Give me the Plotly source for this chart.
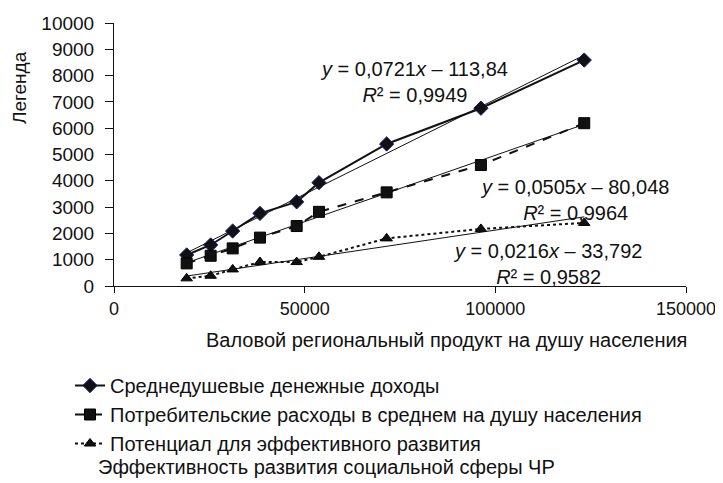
import plotly.graph_objects as go

# Data
grp = [19060, 25350, 31120, 38280, 47900, 53750, 71500, 96220, 123310]
income = [1180, 1560, 2090, 2760, 3200, 3930, 5400, 6760, 8590]
spending = [860, 1150, 1430, 1840, 2280, 2820, 3560, 4600, 6190]
potential = [290, 390, 630, 910, 910, 1110, 1810, 2170, 2400]

series_names = [
    "Среднедушевые денежные доходы",
    "Потребительские расходы в среднем на душу населения",
    "Потенциал для эффективного развития",
]
# trendline coefficients (slope, intercept) and R² as printed on the chart
trend_slope = [0.0721, 0.0505, 0.0216]
trend_intercept = [-113.84, -80.048, -33.792]
trend_r2 = ["0,9949", "0,9964", "0,9582"]
trend_eq = ["0,0721", "0,0505", "0,0216"]
trend_b = ["113,84", "80,048", "33,792"]

x_ticks = [0, 50000, 100000, 150000]
y_ticks = list(range(0, 10001, 1000))

FONT = "Liberation Sans, Arial, sans-serif"

# page has an 8px body margin: figure is drawn at (8, 8)
OFF = 8
W, H = 723 - OFF, 483 - OFF
L, R, T, B = 114 - OFF, 686 - OFF, 23 - OFF, 286 - OFF


def px2paper(sx, sy):
    fx, fy = sx - OFF, sy - OFF
    return (fx - L) / (R - L), (B - fy) / (B - T)


fig = go.Figure()

values = [income, spending, potential]
dashes = ["solid", "dash", "dot"]
symbols = ["diamond", "square", "triangle-up"]
msizes = [11, 11, 10]
mline = ["#1a1a7a", "#000000", "#000000"]

for i in range(3):
    fig.add_trace(go.Scatter(
        x=grp, y=values[i], mode="lines+markers", name=series_names[i],
        line=dict(color="#111111", width=2, dash=dashes[i]),
        marker=dict(symbol=symbols[i], size=msizes[i], color="#111111",
                    line=dict(color=mline[i], width=1)),
    ))

# trendlines
xmin, xmax = min(grp), max(grp)
for i in range(3):
    fig.add_trace(go.Scatter(
        x=[xmin, xmax],
        y=[trend_slope[i] * xmin + trend_intercept[i], trend_slope[i] * xmax + trend_intercept[i]],
        mode="lines", line=dict(color="#111111", width=1), showlegend=False,
        hoverinfo="skip",
    ))

# equation annotations (screen positions)
eq_pos = [(414, 82), (574, 200), (547, 264)]
for i in range(3):
    ax, ay = px2paper(*eq_pos[i])
    fig.add_annotation(
        xref="paper", yref="paper", x=ax, y=ay,
        text=f"<i>y</i> = {trend_eq[i]}<i>x</i> – {trend_b[i]}<br><i>R</i>² = {trend_r2[i]}",
        showarrow=False, align="center", font=dict(size=20, color="#111111", family=FONT),
        xanchor="center", yanchor="middle",
    )

# axis titles and chart title
ax, ay = px2paper(19, 88)
fig.add_annotation(xref="paper", yref="paper", x=ax, y=ay,
                   text="Легенда", textangle=-90, showarrow=False,
                   font=dict(size=19, color="#111111", family=FONT), xanchor="center", yanchor="middle")
ax, ay = px2paper(446, 340)
fig.add_annotation(xref="paper", yref="paper", x=ax, y=ay,
                   text="Валовой региональный продукт на душу населения", showarrow=False,
                   font=dict(size=20, color="#111111", family=FONT), xanchor="center", yanchor="middle")
ax, ay = px2paper(326, 467)
fig.add_annotation(xref="paper", yref="paper", x=ax, y=ay,
                   text="Эффективность развития социальной сферы ЧР", showarrow=False,
                   font=dict(size=20, color="#111111", family=FONT), xanchor="center", yanchor="middle")

lx, ly = px2paper(70, 366)
fig.update_layout(
    width=W, height=H,
    margin=dict(l=L, r=W - R, t=T, b=H - B, pad=0, autoexpand=False),
    paper_bgcolor="white", plot_bgcolor="white",
    font=dict(family=FONT, color="#111111"),
    showlegend=True,
    legend=dict(x=lx, y=ly,
                xanchor="left", yanchor="top", font=dict(size=20, family=FONT, color="#111111"),
                tracegroupgap=0, bgcolor="rgba(0,0,0,0)", itemwidth=30),
)
fig.update_xaxes(range=[0, 150000], tickvals=x_ticks, ticktext=[str(v) for v in x_ticks],
                 showgrid=False, zeroline=False, showline=True, linecolor="#111111", linewidth=1,
                 ticks="outside", ticklen=6, tickcolor="#111111", tickfont=dict(size=18, family=FONT))
fig.update_yaxes(range=[0, 10000], tickvals=y_ticks, ticktext=[str(v) for v in y_ticks],
                 showgrid=False, zeroline=False, showline=True, linecolor="#111111", linewidth=1,
                 ticks="outside", ticklen=8, tickcolor="#111111", ticklabelstandoff=7,
                 tickfont=dict(size=19, family=FONT))

fig.write_html("out.html")
